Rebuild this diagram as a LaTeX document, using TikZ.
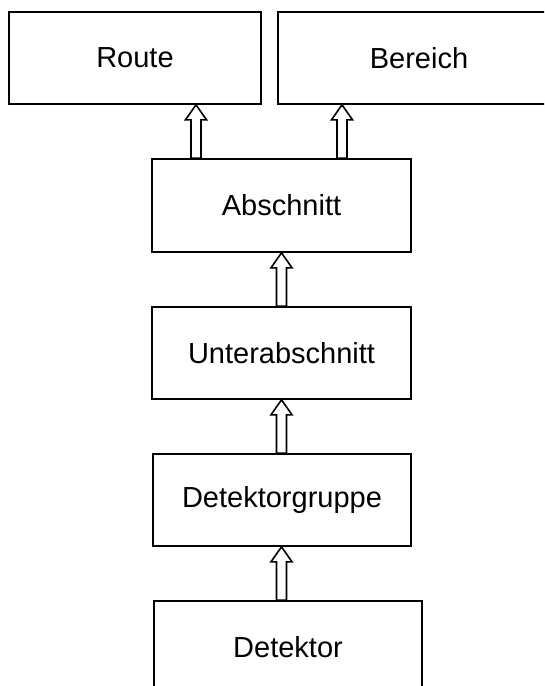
\documentclass[tikz,border=0pt]{standalone}
\usepackage{fontspec}
\setmainfont{Liberation Sans}
\usetikzlibrary{calc}
\tikzset{
  box/.style={draw=black, line width=1.6pt, fill=white, rectangle, inner sep=0pt,
    font=\fontsize{29}{35}\selectfont},
  blockarr/.style={draw=black, line width=1.6pt, fill=white, line join=miter}
}
\newcommand\blockarrow[2]{%
  \draw[blockarr] let \p1=#1, \p2=#2 in
  (\x1-5pt,\y1) -- (\x1-5pt,\y2-15pt) -- (\x1-10.5pt,\y2-15pt) -- (\x1,\y2)
  -- (\x1+10.5pt,\y2-15pt) -- (\x1+5pt,\y2-15pt) -- (\x1+5pt,\y1) -- cycle;}
\begin{document}
\begin{tikzpicture}[x=1pt,y=-1pt]
\useasboundingbox (0,0) rectangle (544,686);
\clip (0,0) rectangle (544,686);
\node[box, minimum width=252pt, minimum height=92pt] (route) at (135,58) {Route};
\node[box, minimum width=282pt, minimum height=92pt] (bereich) at (419,58) {Bereich};
\node[box, minimum width=259pt, minimum height=93pt] (abs) at (281.5,205.5) {Abschnitt};
\node[box, minimum width=259pt, minimum height=92pt] (unter) at (281.5,353) {Unterabschnitt};
\node[box, minimum width=258pt, minimum height=92pt] (gruppe) at (282,500) {Detektorgruppe};
\node[box, minimum width=268pt, minimum height=92pt] (det) at (288,647) {Detektor};
\coordinate (xa) at (196,0);
\coordinate (xb) at (342,0);
\coordinate (xm) at (281.5,0);
\blockarrow{(abs.north -| xa)}{(route.south -| xa)}
\blockarrow{(abs.north -| xb)}{(bereich.south -| xb)}
\blockarrow{(unter.north -| xm)}{(abs.south -| xm)}
\blockarrow{(gruppe.north -| xm)}{(unter.south -| xm)}
\blockarrow{(det.north -| xm)}{(gruppe.south -| xm)}
\end{tikzpicture}
\end{document}
